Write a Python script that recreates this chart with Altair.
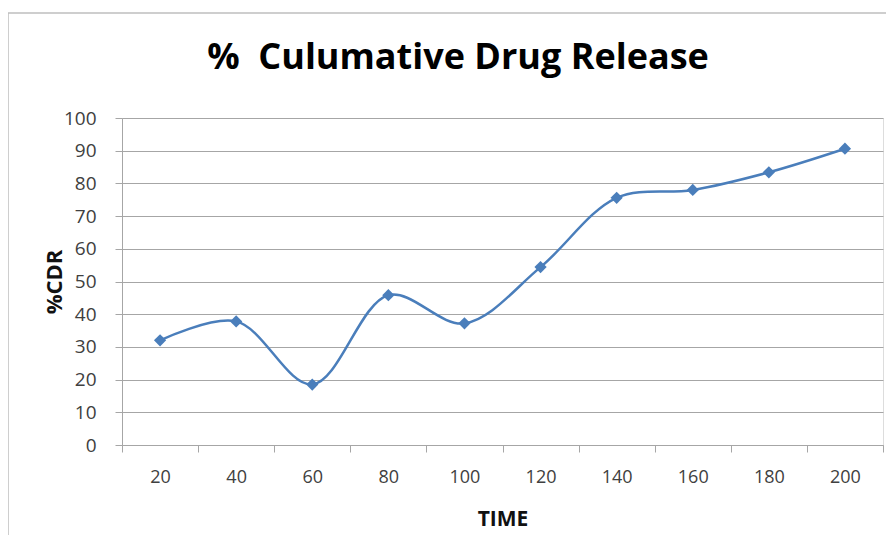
import altair as alt
import pandas as pd

times = [20, 40, 60, 80, 100, 120, 140, 160, 180, 200]
cdr = [32.0, 37.8, 18.5, 45.8, 37.2, 54.4, 75.6, 78.0, 83.4, 90.6]
chart_title = "%\u00a0 Culumative Drug Release"

df = pd.DataFrame({"time": times, "cdr": cdr})

FONT = "Open Sans"
LINE_COLOR = "#4a7ebb"
GRID = "#a6a6a6"

W, H = 761, 327

x_enc = alt.X(
    "time:O",
    title="TIME",
    scale=alt.Scale(paddingInner=0, paddingOuter=0),
    axis=alt.Axis(
        labelAngle=0,
        tickBand="extent",
        domainColor=GRID,
        tickColor=GRID,
        tickSize=7,
        labelPadding=16,
        labelFont=FONT,
        labelFontSize=18,
        labelColor="#404040",
        titleFont=FONT,
        titleFontSize=21,
        titleFontWeight="bold",
        titleColor="#111111",
        titlePadding=22,
    ),
)
y_enc = alt.Y(
    "cdr:Q",
    title="%CDR",
    scale=alt.Scale(domain=[0, 100], nice=False),
    axis=alt.Axis(
        values=list(range(0, 101, 10)),
        grid=True,
        gridColor=GRID,
        domainColor=GRID,
        tickColor=GRID,
        tickSize=7,
        labelPadding=19,
        labelFont=FONT,
        labelFontSize=19,
        labelColor="#404040",
        titleFont=FONT,
        titleFontSize=22,
        titleFontWeight="bold",
        titleColor="#111111",
        titleX=-68,
        titleBaseline="middle",
    ),
)

line = alt.Chart(df).mark_line(
    interpolate="catmull-rom", color=LINE_COLOR, strokeWidth=2.5
).encode(x=x_enc, y=y_enc)

pts = alt.Chart(df).mark_point(
    shape="diamond", filled=True, size=150, color=LINE_COLOR, opacity=1
).encode(x=x_enc, y=y_enc)

frame = alt.Chart(pd.DataFrame({"a": [0]})).mark_rect(
    fill=None, stroke="#bfbfbf", strokeWidth=1.5, clip=False
).encode(
    x=alt.value(-114), x2=alt.value(W + 40),
    y=alt.value(-105), y2=alt.value(H + 200),
)

title = alt.Chart(pd.DataFrame({"t": [chart_title]})).mark_text(
    font=FONT, fontSize=36, fontWeight="bold", color="#000000",
    align="center", baseline="alphabetic", clip=False,
).encode(text="t:N", x=alt.value(336), y=alt.value(-49))

chart = alt.layer(frame, line, pts, title).properties(
    width=W,
    height=H,
    padding={"left": 114, "top": 110, "right": 3, "bottom": 90},
    autosize=alt.AutoSizeParams(type="none"),
).configure_view(stroke=None).configure(background="white")

chart.save("out.html", embed_options={"renderer": "svg", "actions": False})
